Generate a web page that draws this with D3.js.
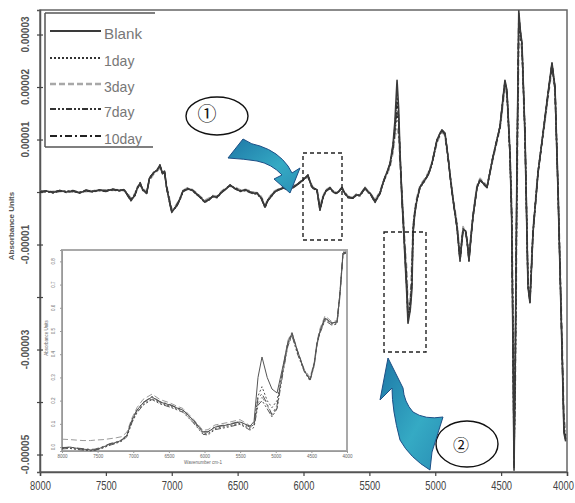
<!DOCTYPE html>
<html><head><meta charset="utf-8">
<script src="https://cdn.jsdelivr.net/npm/d3@7"></script>
<style>body{margin:0;background:#fff} svg{display:block;font-family:"Liberation Sans",Arial,sans-serif}</style>
</head><body><svg id="c" width="575" height="503"></svg>
<script>
// ---- Main plot: second-derivative NIR spectra, values in units of 1e-6 absorbance ----
const wavenumbers = [8000,7950,7900,7850,7800,7750,7700,7650,7600,7550,
 7500,7450,7400,7360,7330,7310,7280,7260,7240,7220,
 7190,7170,7140,7110,7090,7070,7055,7040,7020,7000,
 6980,6960,6935,6915,6880,6846,6810,6786,6750,6720,
 6690,6657,6620,6581,6558,6520,6482,6440,6406,6370,
 6353,6320,6292,6270,6254,6220,6194,6156,6120,6080,
 6040,6004,5966,5940,5928,5898,5875,5852,5830,5799,
 5770,5746,5708,5685,5662,5624,5600,5571,5533,5510,
 5495,5457,5419,5397,5381,5366,5343,5321,5306,5290,
 5278,5268,5252,5245,5230,5215,5207,5190,5177,5169,
 5155,5139,5116,5078,5050,5025,4987,4960,4949,4926,
 4903,4880,4865,4835,4812,4789,4770,4759,4744,4730,
 4714,4683,4660,4630,4607,4562,4509,4471,4456,4433,
 4420,4410,4402,4392,4380,4366,4355,4342,4319,4296,
 4281,4258,4220,4182,4144,4114,4091,4068,4038,4023,
 4010];
const blank = [0.0,0.2,-0.1,0.3,0.0,0.2,-0.2,0.3,0.1,0.4,
 0.2,0.5,0.3,0.4,-0.8,-1.6,-0.6,0.8,1.7,0.4,
 -0.2,2.6,3.6,4.2,5.1,3.5,4.0,1.0,-1.5,-3.8,
 -3.2,-2.5,-1.2,0.2,0.6,0.4,-0.4,-0.9,-1.9,-1.5,
 -0.8,-1.0,0.0,0.8,1.3,0.7,0.2,0.4,0.0,-0.3,
 -0.2,-1.2,-2.9,-1.5,-1.1,0.0,0.4,0.8,0.6,0.9,
 1.6,2.3,3.2,1.2,0.8,0.4,-3.4,-1.0,0.2,0.8,
 -0.1,-0.2,0.8,-0.3,-1.0,-1.1,-0.6,-0.6,0.8,0.0,
 -0.2,-1.9,-0.2,1.7,2.9,3.8,5.5,9.0,13.5,21.3,
 16.0,8.0,-2.0,-5.0,-12.5,-20.0,-25.0,-22.5,-18.5,-8.0,
 -4.0,-1.5,0.9,2.3,3.5,5.5,9.9,11.4,11.8,11.2,
 6.7,1.5,-1.5,-6.7,-13.0,-7.2,-7.4,-9.1,-13.0,-9.0,
 -4.8,0.9,2.3,1.5,0.9,6.7,12.4,21.3,19.4,7.4,
 -5.0,-30.0,-53.0,-30.0,5.0,34.5,31.0,28.4,11.2,-18.1,
 -21.1,-7.8,3.6,11.2,18.9,24.6,20.0,0.0,-30.1,-45.9,
 -47.5];
const day1 = [0.1,0.1,0.0,0.2,0.1,0.1,-0.1,0.2,0.2,0.3,
 0.3,0.4,0.4,0.3,-0.6,-1.4,-0.5,0.9,1.5,0.5,
 -0.1,2.4,3.5,4.3,4.9,3.6,3.8,1.1,-1.3,-3.6,
 -3.3,-2.4,-1.1,0.1,0.7,0.3,-0.3,-1.0,-1.8,-1.4,
 -0.9,-0.9,0.1,0.7,1.2,0.8,0.3,0.3,0.1,-0.2,
 -0.3,-1.1,-2.7,-1.6,-1.0,0.1,0.3,0.9,0.5,1.0,
 1.5,2.4,3.0,1.3,0.7,0.5,-3.1,-1.1,0.3,0.7,
 0.0,-0.3,0.7,-0.2,-0.9,-1.2,-0.5,-0.7,0.7,0.1,
 -0.3,-1.7,-0.1,1.6,2.7,3.6,5.2,8.5,12.5,18.5,
 14.5,7.5,-1.5,-4.5,-11.5,-18.5,-23.5,-21.5,-17.5,-7.5,
 -3.8,-1.4,1.0,2.4,3.6,5.3,9.6,11.2,11.5,11.0,
 6.5,1.6,-1.2,-6.4,-12.5,-7.0,-7.6,-9.3,-12.6,-8.7,
 -4.6,1.0,2.4,1.6,1.0,6.5,12.2,20.8,19.0,7.0,
 -4.0,-26.0,-50.0,-33.0,2.0,32.0,30.0,27.8,11.0,-17.5,
 -20.5,-7.5,3.8,11.0,18.5,24.0,19.5,0.5,-29.0,-44.5,
 -46.5];
const day3 = [0.2,0.0,0.1,0.1,0.2,0.0,0.0,0.1,0.3,0.2,
 0.4,0.3,0.5,0.2,-0.5,-1.2,-0.3,1.0,1.4,0.6,
 0.1,2.2,3.3,4.0,4.6,3.8,3.6,1.3,-1.0,-3.3,
 -3.0,-2.2,-1.0,0.3,0.8,0.5,-0.2,-0.8,-1.6,-1.2,
 -0.7,-0.8,0.2,0.9,1.1,0.9,0.4,0.5,0.2,-0.1,
 -0.1,-0.9,-2.5,-1.4,-0.8,0.2,0.5,1.0,0.7,1.1,
 1.7,2.2,2.8,1.5,0.9,0.6,-2.8,-0.8,0.4,0.9,
 0.1,-0.1,0.9,-0.1,-0.8,-1.0,-0.4,-0.5,0.9,0.2,
 -0.1,-1.5,0.1,1.8,2.6,3.4,4.8,7.5,10.5,12.0,
 11.0,6.0,-0.5,-3.5,-10.0,-15.5,-22.0,-21.0,-13.0,-6.5,
 -3.2,-1.0,1.2,2.6,3.8,5.6,9.4,11.0,11.4,10.8,
 6.2,1.8,-1.0,-6.0,-12.0,-6.6,-7.8,-9.5,-12.2,-8.4,
 -4.3,1.2,2.6,1.8,1.2,6.3,12.0,20.0,18.5,8.0,
 -2.0,-22.0,-46.0,-36.0,-2.0,29.0,29.5,27.0,10.5,-16.5,
 -20.0,-7.2,4.0,10.8,18.0,23.5,19.0,1.0,-27.5,-43.0,
 -45.5];
const day7 = [0.0,0.1,-0.2,0.2,0.1,0.3,-0.1,0.2,0.0,0.3,
 0.1,0.4,0.2,0.5,-0.7,-1.5,-0.7,0.7,1.6,0.3,
 -0.3,2.5,3.7,4.1,5.0,3.4,3.9,0.9,-1.6,-3.9,
 -3.1,-2.6,-1.3,0.1,0.5,0.3,-0.5,-1.0,-2.0,-1.6,
 -0.9,-1.1,-0.1,0.7,1.4,0.6,0.1,0.3,-0.1,-0.4,
 -0.3,-1.3,-3.0,-1.6,-1.2,-0.1,0.3,0.7,0.5,0.8,
 1.5,2.2,3.3,1.1,0.7,0.3,-3.5,-1.1,0.1,0.7,
 -0.2,-0.3,0.7,-0.4,-1.1,-1.2,-0.7,-0.7,0.7,-0.1,
 -0.3,-2.0,-0.3,1.6,2.8,3.7,5.3,8.2,11.5,15.0,
 13.0,7.0,-1.0,-4.0,-11.0,-17.5,-24.0,-22.5,-16.0,-7.0,
 -3.9,-1.6,0.8,2.2,3.4,5.4,9.8,11.3,11.7,11.1,
 6.8,1.4,-1.6,-6.8,-13.2,-7.3,-7.3,-9.0,-13.2,-9.1,
 -4.9,0.8,2.2,1.4,0.8,6.8,12.5,21.0,19.2,7.2,
 -4.5,-28.0,-52.0,-31.0,4.0,33.5,30.5,28.0,11.1,-17.8,
 -20.8,-7.7,3.7,11.1,18.7,24.3,19.8,0.2,-29.5,-45.2,
 -47.0];
const day10 = [0.1,0.2,0.0,0.3,-0.1,0.2,-0.2,0.4,0.1,0.4,
 0.2,0.6,0.3,0.4,-0.9,-1.7,-0.6,0.8,1.8,0.4,
 -0.2,2.7,3.6,4.3,5.2,3.5,4.1,1.0,-1.4,-3.7,
 -3.2,-2.5,-1.2,0.2,0.6,0.4,-0.4,-0.9,-1.9,-1.5,
 -0.8,-1.0,0.0,0.8,1.3,0.7,0.2,0.4,0.0,-0.3,
 -0.2,-1.2,-2.8,-1.5,-1.1,0.0,0.4,0.8,0.6,0.9,
 1.6,2.3,3.1,1.2,0.8,0.4,-3.3,-1.0,0.2,0.8,
 -0.1,-0.2,0.8,-0.3,-1.0,-1.1,-0.6,-0.6,0.8,0.0,
 -0.2,-1.8,-0.2,1.7,2.8,3.7,5.4,8.8,12.0,17.0,
 14.0,7.8,-1.8,-4.8,-12.0,-19.0,-24.5,-21.0,-17.0,-7.8,
 -4.0,-1.5,0.9,2.3,3.5,5.5,9.9,11.4,11.8,11.2,
 6.7,1.5,-1.5,-6.7,-13.0,-7.2,-7.4,-9.1,-13.0,-9.0,
 -4.8,0.9,2.3,1.5,0.9,6.7,12.4,21.1,19.3,7.3,
 -4.8,-29.0,-52.5,-30.5,4.5,34.0,30.8,28.2,11.2,-18.0,
 -21.0,-7.8,3.6,11.2,18.8,24.5,19.9,0.1,-29.8,-45.5,
 -47.2];

const seriesNames = ["Blank","1day","3day","7day","10day"];
const xTickValues = [8000,7500,7000,6500,6000,5500,5000,4500,4000];
const xTickLabels = ["8000","7500","7000","6500","6000","5500","5000","4500","4000"];
const yTickValues = [30,20,10,0,-10,-20,-30,-40,-50];
const yTickLabels = ["0.00003","0.00002","0.00001","","-0.00001","","-0.00003","","-0.00005"];

// ---- Inset: raw absorbance spectra ----
const insetWavenumbers = [8000,7888,7800,7705,7600,7537,7425,7326,7240,7158,
 7088,7018,6947,6863,6737,6625,6484,6400,6302,6161,
 6021,5951,5853,5684,5502,5400,5361,5305,5249,5193,
 5120,5053,4982,4898,4830,4772,4700,4600,4519,4460,
 4421,4380,4309,4211,4140,4100,4056,4014];
const insetBlank = [-0.004,0.0,-0.005,-0.009,-0.012,-0.013,0.0,0.013,0.02,0.03,
 0.052,0.116,0.159,0.19,0.216,0.194,0.181,0.17,0.159,0.116,
 0.065,0.065,0.086,0.095,0.108,0.095,0.09,0.11,0.30,0.388,
 0.30,0.25,0.233,0.35,0.45,0.491,0.42,0.33,0.289,0.36,
 0.448,0.50,0.556,0.534,0.539,0.66,0.836,0.84];
const insetDay1 = [-0.006,-0.004,-0.008,-0.011,-0.015,-0.012,-0.003,0.010,0.018,0.028,
 0.048,0.110,0.152,0.184,0.21,0.19,0.176,0.166,0.154,0.11,
 0.06,0.058,0.08,0.09,0.102,0.085,0.08,0.10,0.22,0.26,
 0.20,0.17,0.20,0.33,0.44,0.485,0.41,0.33,0.29,0.355,
 0.44,0.495,0.55,0.53,0.535,0.65,0.83,0.838];
const insetDay3 = [0.034,0.032,0.030,0.028,0.028,0.030,0.032,0.036,0.04,0.045,
 0.065,0.125,0.17,0.205,0.228,0.205,0.19,0.178,0.166,0.122,
 0.072,0.075,0.095,0.105,0.118,0.10,0.09,0.095,0.19,0.215,
 0.18,0.135,0.17,0.34,0.46,0.495,0.42,0.335,0.30,0.365,
 0.455,0.51,0.565,0.54,0.545,0.67,0.842,0.846];
const insetDay7 = [-0.008,-0.006,-0.01,-0.013,-0.016,-0.014,-0.004,0.008,0.016,0.026,
 0.045,0.105,0.148,0.18,0.205,0.186,0.172,0.162,0.15,0.106,
 0.055,0.052,0.075,0.085,0.098,0.08,0.073,0.085,0.18,0.2,
 0.165,0.13,0.165,0.32,0.435,0.48,0.405,0.325,0.285,0.35,
 0.44,0.49,0.545,0.525,0.53,0.645,0.83,0.835];
const insetDay10 = [-0.002,-0.001,-0.004,-0.007,-0.01,-0.009,0.002,0.015,0.022,0.032,
 0.054,0.118,0.16,0.192,0.218,0.196,0.183,0.172,0.16,0.118,
 0.066,0.066,0.088,0.097,0.11,0.092,0.085,0.098,0.21,0.23,
 0.185,0.14,0.18,0.34,0.45,0.49,0.415,0.33,0.292,0.36,
 0.447,0.50,0.556,0.534,0.54,0.66,0.836,0.84];
const insetXTickValues = [8000,7500,7000,6500,6000,5500,5000,4500,4000];
const insetYTickValues = [0,0.1,0.2,0.3,0.4,0.5,0.6,0.7,0.8];

// ---------------- drawing ----------------
const svg = d3.select("#c");
const x = d3.scaleLinear().domain([8000,4000]).range([40,567]);
const y = d3.scaleLinear().domain([-53.33,34.67]).range([472,10]);

const styles = {
  "Blank": {color:"#3a3a3a", dash:null, w:1.6},
  "1day":  {color:"#333", dash:"2,2", w:1.4},
  "3day":  {color:"#a8a8a8", dash:"6,3", w:1.8},
  "7day":  {color:"#333", dash:"6,2,2,2,2,2", w:1.4},
  "10day": {color:"#222", dash:"7,3,2,3", w:1.4}
};

const defs = svg.append("defs");
defs.append("clipPath").attr("id","clipMain").append("rect")
  .attr("x",40).attr("y",10).attr("width",527).attr("height",462);
const g1 = defs.append("linearGradient").attr("id","arrowGrad")
  .attr("x1","0%").attr("y1","0%").attr("x2","100%").attr("y2","100%");
g1.append("stop").attr("offset","0%").attr("stop-color","#1d77a6");
g1.append("stop").attr("offset","60%").attr("stop-color","#35aac4");
g1.append("stop").attr("offset","100%").attr("stop-color","#2a8fb5");

// frame
svg.append("rect").attr("x",40).attr("y",10).attr("width",527).attr("height",462)
  .attr("fill","none").attr("stroke","#666").attr("stroke-width",1.5);

// x axis
const xAxis = svg.append("g").attr("transform","translate(0,472)")
  .call(d3.axisBottom(x).tickValues(xTickValues).tickSize(4).tickFormat((d,i)=>xTickLabels[i]));
xAxis.select(".domain").attr("stroke","#555").attr("stroke-width",1.5);
xAxis.selectAll(".tick line").attr("stroke","#444").attr("stroke-width",1.2);
xAxis.selectAll(".tick text").attr("font-size",12).attr("fill","#444")
  .attr("font-family","Liberation Sans, Arial, sans-serif")
  .attr("y",14).attr("dy","0.32em")
  .attr("transform",(d,i)=> i===xTickValues.length-1 ? "translate(-4,0) scale(0.78,1)" : "scale(0.78,1)")
  .attr("x",0);

// y axis
const yAxis = svg.append("g").attr("transform","translate(40,0)")
  .call(d3.axisLeft(y).tickValues(yTickValues).tickSize(3).tickFormat(""));
yAxis.select(".domain").attr("stroke","#555").attr("stroke-width",1.5);
yAxis.selectAll(".tick line").attr("stroke","#444").attr("stroke-width",1.2).attr("x2",3).attr("x1",-3);
svg.append("g").selectAll("text").data(yTickValues).join("text")
  .attr("transform",d=>`translate(25,${y(d)}) rotate(-90)`)
  .attr("text-anchor","middle").attr("dy","0.35em")
  .attr("font-size",10).attr("font-weight","bold").attr("fill","#555")
  .text((d,i)=>yTickLabels[i]);
svg.append("text").attr("transform","translate(11,226) rotate(-90)")
  .attr("text-anchor","middle").attr("dy","0.35em")
  .attr("font-size",8).attr("font-weight","bold").attr("fill","#555")
  .text("Absorbance Units");

// main series
const mainData = [blank, day1, day3, day7, day10];
const drawOrder = [2,1,3,4,0];
const line = d3.line().x((d,i)=>x(wavenumbers[i])).y(d=>y(d));
const mg = svg.append("g").attr("clip-path","url(#clipMain)");
drawOrder.forEach(k=>{
  const st = styles[seriesNames[k]];
  mg.append("path").datum(mainData[k]).attr("d",line)
    .attr("fill","none").attr("stroke",st.color).attr("stroke-width",st.w)
    .attr("stroke-dasharray",st.dash).attr("stroke-linejoin","round");
});

// legend
const lg = svg.append("g");
lg.append("path").attr("d","M45,13 H155 M45,13 V147 M45,147 H153")
  .attr("fill","none").attr("stroke","#555").attr("stroke-width",1.5);
const legendY = [34,61,87,112,139];
seriesNames.forEach((nm,i)=>{
  const st = styles[nm];
  lg.append("line").attr("x1",50).attr("x2",101).attr("y1",legendY[i]-3).attr("y2",legendY[i]-3)
    .attr("stroke",st.color).attr("stroke-width",st.w+0.6).attr("stroke-dasharray",st.dash);
  lg.append("text").attr("x",104).attr("y",legendY[i]).attr("dy","0.35em")
    .attr("font-size",15).attr("fill","#777")
    .attr("textLength",nm.length*7.6).attr("lengthAdjust","spacingAndGlyphs")
    .text(nm);
});

// inset
const ix = d3.scaleLinear().domain([8000,4000]).range([62,347]);
const iy = d3.scaleLinear().domain([-0.017,0.849]).range([451,250]);
const ins = svg.append("g");
ins.append("rect").attr("x",62).attr("y",250).attr("width",285).attr("height",201)
  .attr("fill","#fff").attr("stroke","#a9a9a9").attr("stroke-width",2);
const ixAxis = ins.append("g").attr("transform","translate(0,451)")
  .call(d3.axisBottom(ix).tickValues(insetXTickValues).tickSize(2).tickFormat(d3.format("d")));
ixAxis.select(".domain").attr("stroke","#999");
ixAxis.selectAll(".tick line").attr("stroke","#999");
ixAxis.selectAll(".tick text").attr("font-size",4.5).attr("fill","#666").attr("y",4);
const iyAxis = ins.append("g").attr("transform","translate(62,0)")
  .call(d3.axisLeft(iy).tickValues(insetYTickValues).tickSize(2).tickFormat(""));
iyAxis.select(".domain").attr("stroke","#999");
iyAxis.selectAll(".tick line").attr("stroke","#999");
ins.append("g").selectAll("text").data(insetYTickValues).join("text")
  .attr("transform",d=>`translate(53,${iy(d)}) rotate(-90)`)
  .attr("text-anchor","middle").attr("dy","0.35em").attr("font-size",4.5).attr("fill","#666")
  .text(d=>d3.format(".1f")(d));
ins.append("text").attr("transform","translate(46,338) rotate(-90)")
  .attr("text-anchor","middle").attr("dy","0.35em").attr("font-size",4.5).attr("fill","#666")
  .text("Absorbance Units");
ins.append("text").attr("x",203).attr("y",464).attr("text-anchor","middle")
  .attr("font-size",4.5).attr("fill","#666").text("Wavenumber cm-1");
const insetData = [insetBlank, insetDay1, insetDay3, insetDay7, insetDay10];
const iline = d3.line().x((d,i)=>ix(insetWavenumbers[i])).y(d=>iy(d));
drawOrder.forEach(k=>{
  const st = styles[seriesNames[k]];
  ins.append("path").datum(insetData[k]).attr("d",iline)
    .attr("fill","none").attr("stroke",k===2?"#9a9a9a":"#555").attr("stroke-width",1)
    .attr("stroke-dasharray",st.dash);
});

// annotations
const ann = svg.append("g");
ann.append("rect").attr("x",303).attr("y",153).attr("width",39).attr("height",87)
  .attr("fill","none").attr("stroke","#222").attr("stroke-width",1.4).attr("stroke-dasharray","4,3");
ann.append("rect").attr("x",384).attr("y",232).attr("width",42).attr("height",120)
  .attr("fill","none").attr("stroke","#222").attr("stroke-width",1.4).attr("stroke-dasharray","4,3");
ann.append("ellipse").attr("cx",217).attr("cy",116).attr("rx",31).attr("ry",19)
  .attr("fill","none").attr("stroke","#111").attr("stroke-width",1.4);
ann.append("text").attr("x",207).attr("y",114).attr("text-anchor","middle").attr("dy","0.35em")
  .attr("font-family","Noto Sans CJK SC, DejaVu Sans, sans-serif").attr("font-size",19).attr("fill","#111").text("①");
ann.append("ellipse").attr("cx",467).attr("cy",444).attr("rx",31).attr("ry",23)
  .attr("fill","none").attr("stroke","#111").attr("stroke-width",1.4);
ann.append("text").attr("x",461).attr("y",445).attr("text-anchor","middle").attr("dy","0.35em")
  .attr("font-family","Noto Sans CJK SC, DejaVu Sans, sans-serif").attr("font-size",16).attr("fill","#111").text("②");
// curved arrows
ann.append("path")
  .attr("d","M228,158 L243,139 Q252,145 260,146 Q278,152 288,166 L292,173 L300,168 L290,193 L274,179 L282,175 Q272,164 257,161 Q245,159 228,158 Z")
  .attr("fill","url(#arrowGrad)").attr("stroke","#1c4f86").attr("stroke-width",1);
ann.append("path")
  .attr("d","M388,358 L380,400 L392,388 Q392,410 400,440 Q410,458 430,470 L432,452 L443,417 Q425,420 413,412 Q404,402 403,388 Z")
  .attr("fill","url(#arrowGrad)").attr("stroke","#1c4f86").attr("stroke-width",1);
</script></body></html>
